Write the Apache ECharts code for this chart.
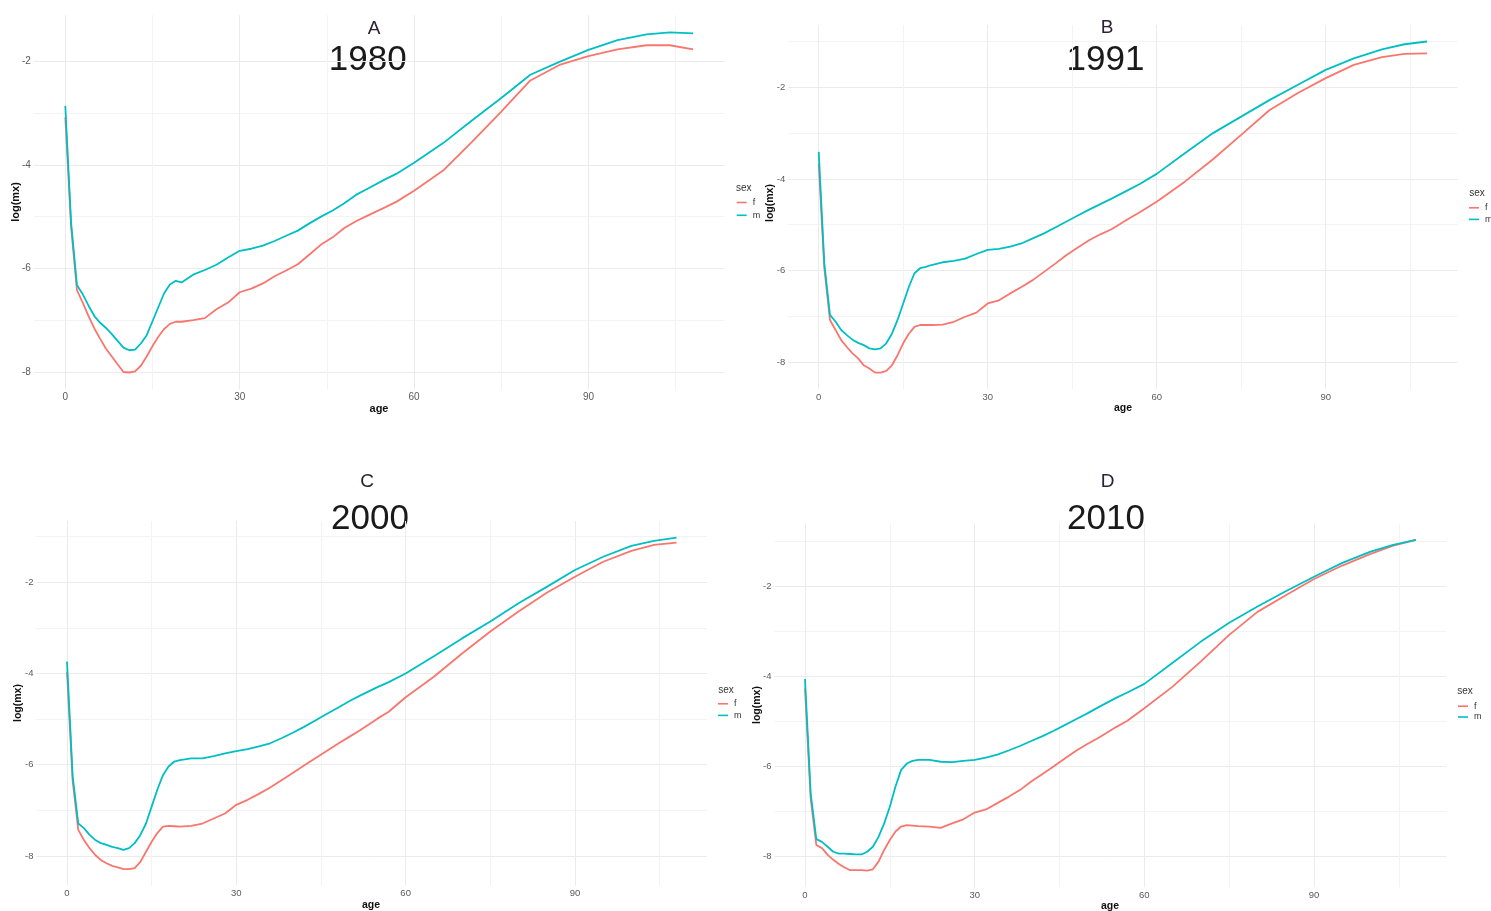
<!DOCTYPE html>
<html>
<head>
<meta charset="utf-8">
<title>log(mx) by age and sex</title>
<script src="https://cdn.jsdelivr.net/npm/echarts@6/dist/echarts.min.js"></script>
<style>
  html, body { margin: 0; padding: 0; background: #ffffff; }
  #chart { width: 1491px; height: 911px; }
</style>
</head>
<body>
<div id="chart"></div>
<script>
// ---- data: log death rates by single age, per sex and year ----
const ages = [0,1,2,3,4,5,6,7,8,9,10,11,12,13,14,15,16,17,18,19,20,22,24,26,28,30,32,34,36,38,40,42,44,46,48,50,52,55,57,60,65,70,75,80,85,90,95,100,104,108];

const mx1980F = [-3.08,-5.20,-6.42,-6.66,-6.92,-7.16,-7.36,-7.55,-7.70,-7.85,-8.00,-8.01,-7.99,-7.88,-7.70,-7.50,-7.32,-7.17,-7.07,-7.03,-7.03,-7.00,-6.96,-6.79,-6.66,-6.46,-6.39,-6.29,-6.15,-6.04,-5.92,-5.73,-5.54,-5.40,-5.22,-5.09,-4.98,-4.82,-4.71,-4.50,-4.11,-3.55,-2.97,-2.37,-2.07,-1.90,-1.77,-1.69,-1.69,-1.77];
const mx1980M = [-2.86,-5.12,-6.32,-6.50,-6.72,-6.92,-7.05,-7.15,-7.27,-7.40,-7.53,-7.58,-7.57,-7.45,-7.29,-7.02,-6.75,-6.48,-6.31,-6.24,-6.27,-6.12,-6.03,-5.93,-5.79,-5.66,-5.62,-5.56,-5.47,-5.37,-5.27,-5.13,-5.00,-4.88,-4.74,-4.58,-4.46,-4.28,-4.17,-3.96,-3.58,-3.14,-2.71,-2.26,-2.01,-1.78,-1.59,-1.48,-1.44,-1.46];

const mx1991F = [-3.66,-5.95,-7.08,-7.30,-7.52,-7.67,-7.81,-7.92,-8.07,-8.14,-8.23,-8.23,-8.19,-8.07,-7.85,-7.59,-7.38,-7.23,-7.19,-7.19,-7.19,-7.18,-7.12,-7.01,-6.92,-6.72,-6.65,-6.50,-6.36,-6.21,-6.03,-5.85,-5.66,-5.50,-5.34,-5.21,-5.10,-4.87,-4.73,-4.50,-4.06,-3.57,-3.04,-2.50,-2.13,-1.80,-1.51,-1.34,-1.27,-1.26];
const mx1991M = [-3.41,-5.85,-6.97,-7.12,-7.30,-7.41,-7.51,-7.58,-7.63,-7.70,-7.72,-7.70,-7.59,-7.38,-7.08,-6.72,-6.36,-6.06,-5.95,-5.92,-5.88,-5.82,-5.79,-5.74,-5.64,-5.55,-5.53,-5.48,-5.41,-5.30,-5.19,-5.06,-4.93,-4.80,-4.67,-4.55,-4.43,-4.24,-4.11,-3.89,-3.44,-3.00,-2.64,-2.28,-1.95,-1.62,-1.37,-1.17,-1.06,-1.00];

const mx2000F = [-3.96,-6.35,-7.43,-7.65,-7.83,-7.98,-8.09,-8.16,-8.22,-8.25,-8.29,-8.29,-8.27,-8.13,-7.91,-7.69,-7.50,-7.36,-7.34,-7.35,-7.36,-7.34,-7.29,-7.18,-7.07,-6.88,-6.77,-6.64,-6.50,-6.34,-6.18,-6.02,-5.86,-5.70,-5.54,-5.39,-5.24,-4.99,-4.84,-4.52,-4.07,-3.56,-3.08,-2.64,-2.23,-1.88,-1.55,-1.31,-1.18,-1.13];
const mx2000M = [-3.74,-6.25,-7.29,-7.39,-7.54,-7.65,-7.72,-7.76,-7.80,-7.83,-7.87,-7.83,-7.72,-7.54,-7.29,-6.92,-6.55,-6.23,-6.04,-5.93,-5.90,-5.86,-5.86,-5.81,-5.75,-5.70,-5.66,-5.60,-5.53,-5.42,-5.30,-5.17,-5.03,-4.89,-4.75,-4.61,-4.48,-4.30,-4.19,-4.00,-3.62,-3.23,-2.86,-2.46,-2.10,-1.73,-1.44,-1.20,-1.09,-1.02];

const mx2010F = [-4.26,-6.70,-7.74,-7.81,-7.96,-8.07,-8.16,-8.24,-8.30,-8.30,-8.30,-8.31,-8.28,-8.11,-7.85,-7.63,-7.44,-7.33,-7.30,-7.31,-7.32,-7.33,-7.36,-7.26,-7.17,-7.02,-6.95,-6.81,-6.67,-6.52,-6.33,-6.16,-5.99,-5.81,-5.64,-5.49,-5.35,-5.12,-4.98,-4.70,-4.22,-3.66,-3.07,-2.56,-2.19,-1.83,-1.53,-1.27,-1.09,-0.96];
const mx2010M = [-4.05,-6.59,-7.61,-7.67,-7.78,-7.89,-7.93,-7.93,-7.94,-7.95,-7.95,-7.89,-7.78,-7.56,-7.26,-6.89,-6.44,-6.07,-5.93,-5.87,-5.85,-5.85,-5.89,-5.90,-5.87,-5.85,-5.80,-5.73,-5.64,-5.54,-5.43,-5.32,-5.20,-5.07,-4.94,-4.81,-4.67,-4.47,-4.35,-4.16,-3.69,-3.22,-2.80,-2.44,-2.10,-1.78,-1.47,-1.22,-1.07,-0.96];

const panelLetters = ['A', 'B', 'C', 'D'];
const panelYears = ['1980', '1991', '2000', '2010'];
const femaleSeries = [mx1980F, mx1991F, mx2000F, mx2010F];
const maleSeries = [mx1980M, mx1991M, mx2000M, mx2010M];
const sexLevels = ['f', 'm'];
const xTickLabels = [0, 30, 60, 90];
const yTickLabels = [-8, -6, -4, -2];

// ---- layout of the four sub-plots (pixel anchors of age 0 and log(mx) = -2) ----
const panels = [
  { x0: 65.3,  pxYear: 5.813, yM2: 61.3,  pxUnit: 51.78, big: true,
    letter: [374, 28.3],  year: [367.7, 60],  age: [379, 409],  ylab: [16, 202],
    sex: [736, 188],  legend: [736.7, 198], legendGap: 13.8 },
  { x0: 818.7, pxYear: 5.633, yM2: 87.3,  pxUnit: 45.8,
    letter: [1107, 27.5], year: [1105.5, 60], age: [1123, 408], ylab: [770, 203],
    sex: [1469.3, 193.3], legend: [1469, 203.3], legendGap: 12.6 },
  { x0: 67,    pxYear: 5.644, yM2: 582.3, pxUnit: 45.6,
    letter: [367, 481.5], year: [370, 519],  age: [371, 905],  ylab: [18, 703],
    sex: [718.3, 690.7], legend: [718, 699.3], legendGap: 12.6 },
  { x0: 805,   pxYear: 5.656, yM2: 586.7, pxUnit: 45,
    letter: [1107.5, 481.5], year: [1106, 519], age: [1110, 906], ylab: [757, 705],
    sex: [1457.3, 691], legend: [1458, 701.7], legendGap: 11.8 }
];

const FONT = '"Liberation Sans", Arial, Helvetica, sans-serif';
const COL_F = '#F8766D';
const COL_M = '#00BFC4';

// ggplot-style 5% expansion of a data range
function expandRange(lo, hi) {
  const pad = (hi - lo) * 0.05;
  return [lo - pad, hi + pad];
}

const xRange = expandRange(Math.min(...ages), Math.max(...ages));

const grids = [], xAxes = [], yAxes = [], series = [], legends = [], graphics = [];

panels.forEach((p, i) => {
  const all = femaleSeries[i].concat(maleSeries[i]);
  const yRange = expandRange(Math.min(...all), Math.max(...all));

  const left = p.x0 + xRange[0] * p.pxYear;
  const width = (xRange[1] - xRange[0]) * p.pxYear;
  const top = p.yM2 - (yRange[1] - (-2)) * p.pxUnit;
  const height = (yRange[1] - yRange[0]) * p.pxUnit;
  grids.push({ left, top, width, height, containLabel: false });

  const tickSize = p.big ? 10 : 9.5;
  const splitStyle = { color: '#ebebeb', width: 1 };
  const minorStyle = { color: '#f3f3f3', width: 1 };

  xAxes.push({
    gridIndex: i, type: 'value', min: xRange[0], max: xRange[1],
    minInterval: 30, maxInterval: 30,
    axisLine: { show: false }, axisTick: { show: false },
    axisLabel: {
      fontSize: tickSize, color: '#5a5a5a', fontFamily: FONT, margin: 3,
      formatter: v => (xTickLabels.includes(v) ? String(v) : '')
    },
    splitLine: { show: true, showMinLine: false, showMaxLine: false, lineStyle: splitStyle },
    minorTick: { show: false, splitNumber: 2 },
    minorSplitLine: { show: true, lineStyle: minorStyle }
  });
  yAxes.push({
    gridIndex: i, type: 'value', min: yRange[0], max: yRange[1],
    minInterval: 2, maxInterval: 2,
    axisLine: { show: false }, axisTick: { show: false },
    axisLabel: {
      fontSize: tickSize, color: '#5a5a5a', fontFamily: FONT, margin: 3,
      formatter: v => (yTickLabels.includes(v) ? String(v) : '')
    },
    splitLine: { show: true, showMinLine: false, showMaxLine: false, lineStyle: splitStyle },
    minorTick: { show: false, splitNumber: 2 },
    minorSplitLine: { show: true, lineStyle: minorStyle }
  });

  [[sexLevels[0], femaleSeries[i], COL_F], [sexLevels[1], maleSeries[i], COL_M]].forEach(([name, vals, col]) => {
    series.push({
      name, type: 'line', xAxisIndex: i, yAxisIndex: i,
      data: ages.map((a, k) => [a, vals[k]]),
      symbol: 'none', showSymbol: false, smooth: false,
      lineStyle: { color: col, width: 1.8 }, itemStyle: { color: col },
      animation: false, silent: true, z: 3
    });
  });

  legends.push({
    data: sexLevels, orient: 'vertical', left: p.legend[0], top: p.legend[1],
    icon: 'rect', itemWidth: 10, itemHeight: 1.6, itemGap: p.legendGap - 10,
    selectedMode: false, padding: 0,
    textStyle: { fontSize: 9, color: '#333', fontFamily: FONT, padding: [0, 0, 0, 1] }
  });

  graphics.push(
    { type: 'text', x: p.letter[0], y: p.letter[1], silent: true,
      style: { text: panelLetters[i], fontSize: 19, fontFamily: FONT, fill: '#2d2034', align: 'center', verticalAlign: 'middle' } },
    { type: 'text', x: p.year[0], y: p.year[1], silent: true,
      style: { text: panelYears[i], fontSize: 35, fontFamily: FONT, fill: '#1a1a1a', align: 'center', verticalAlign: 'middle' } },
    { type: 'text', x: p.age[0], y: p.age[1], silent: true,
      style: { text: 'age', fontSize: p.big ? 11 : 10.5, fontWeight: 'bold', fontFamily: FONT, fill: '#111', align: 'center', verticalAlign: 'middle' } },
    { type: 'text', x: p.ylab[0], y: p.ylab[1], rotation: Math.PI / 2, silent: true,
      style: { text: 'log(mx)', fontSize: p.big ? 11 : 10.5, fontWeight: 'bold', fontFamily: FONT, fill: '#111', align: 'center', verticalAlign: 'middle' } },
    { type: 'text', x: p.sex[0], y: p.sex[1], silent: true,
      style: { text: 'sex', fontSize: 10, fontFamily: FONT, fill: '#333', align: 'left', verticalAlign: 'middle' } }
  );
});

const chart = echarts.init(document.getElementById('chart'), null, { renderer: 'canvas' });
chart.setOption({
  backgroundColor: '#ffffff',
  animation: false,
  textStyle: { fontFamily: FONT },
  grid: grids,
  xAxis: xAxes,
  yAxis: yAxes,
  legend: legends,
  series,
  graphic: graphics
});
</script>
</body>
</html>
